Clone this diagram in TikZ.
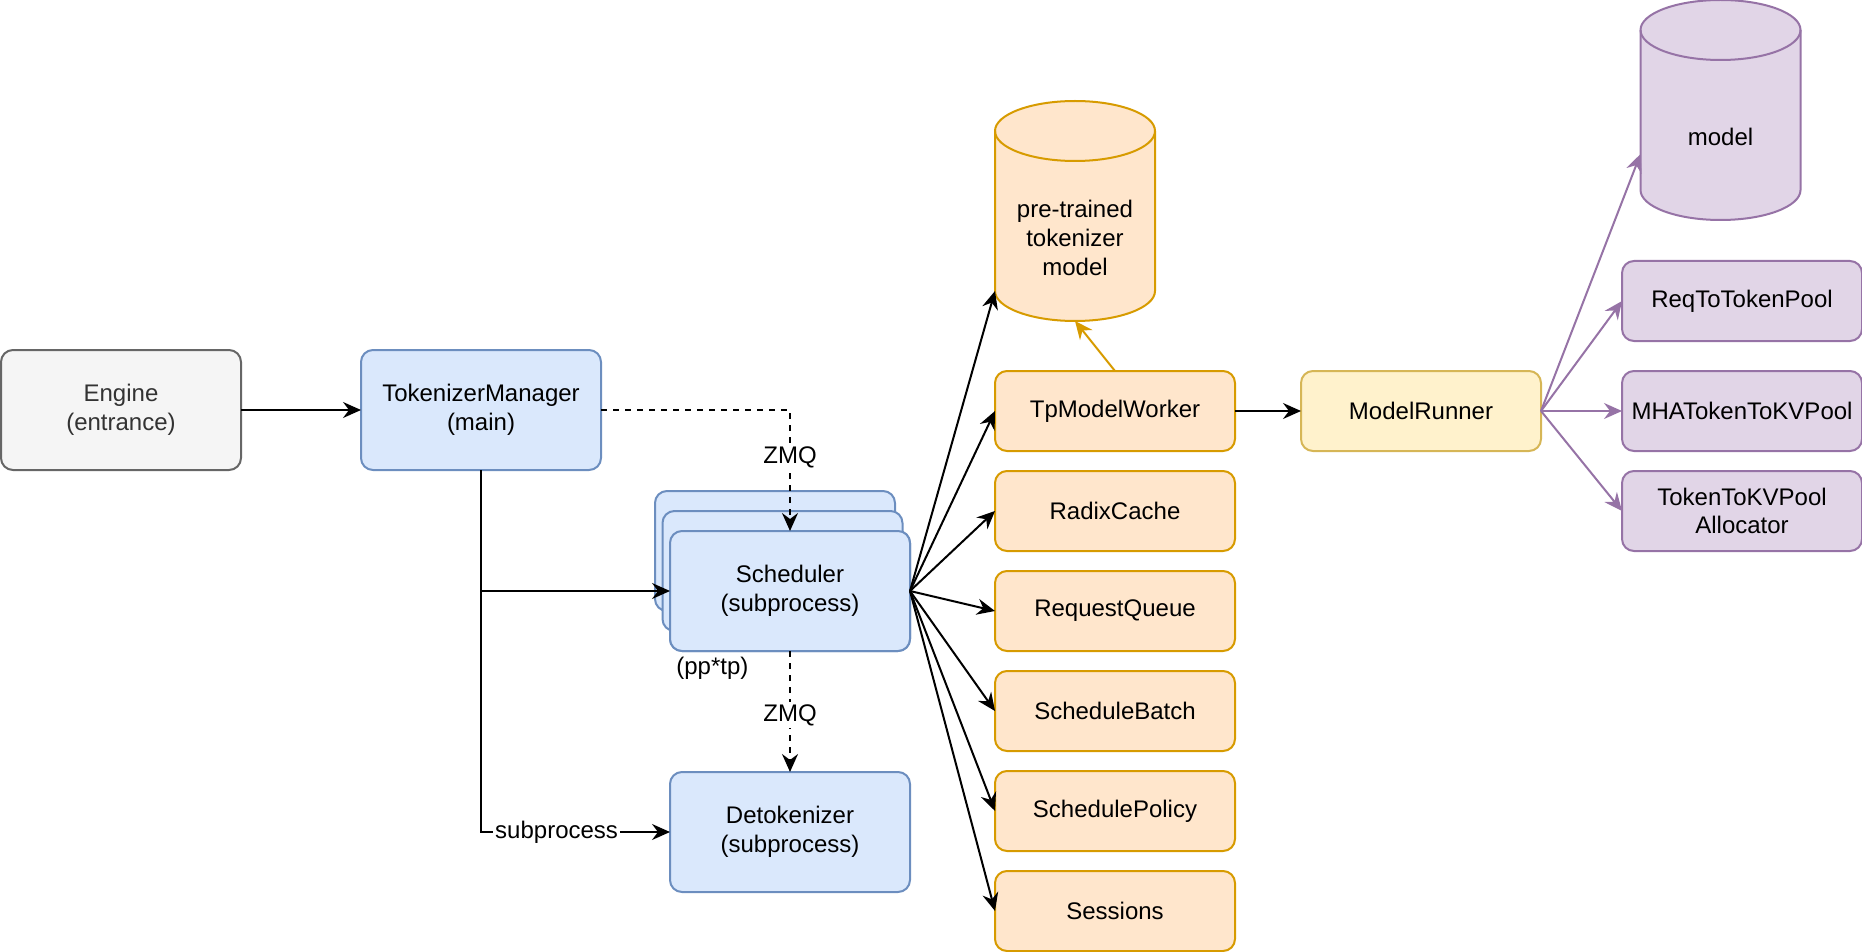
\documentclass[tikz,border=0pt]{standalone}
\usepackage{fontspec}
\setmainfont{Liberation Sans}
\usetikzlibrary{positioning,arrows.meta,calc,backgrounds}
\definecolor{engfill}{HTML}{F5F5F5}
\definecolor{engline}{HTML}{666666}
\definecolor{engtext}{HTML}{333333}
\definecolor{procfill}{HTML}{DAE8FC}
\definecolor{procline}{HTML}{6C8EBF}
\definecolor{compfill}{HTML}{FFE6CC}
\definecolor{compline}{HTML}{D79B00}
\definecolor{runfill}{HTML}{FFF2CC}
\definecolor{runline}{HTML}{D6B656}
\definecolor{poolfill}{HTML}{E1D5E7}
\definecolor{poolline}{HTML}{9673A6}
\begin{document}
\begin{tikzpicture}[x=1pt, y=-1pt,
  font=\fontsize{12}{14.4}\selectfont,
  node distance=10pt and 40pt,
  base/.style={draw, rounded corners=6pt, align=center, line width=1pt,
               outer sep=0pt, inner sep=2pt},
  entry/.style={base, fill=engfill, draw=engline, text=engtext,
                minimum width=120pt, minimum height=60pt},
  proc/.style={base, fill=procfill, draw=procline,
               minimum width=120pt, minimum height=60pt},
  comp/.style={base, fill=compfill, draw=compline,
               minimum width=120pt, minimum height=40pt},
  runner/.style={base, fill=runfill, draw=runline,
                 minimum width=120pt, minimum height=40pt},
  pool/.style={base, fill=poolfill, draw=poolline,
               minimum width=120pt, minimum height=40pt},
  db/.style={minimum width=80pt, minimum height=110pt, inner sep=0pt,
             outer sep=0pt},
  dbtext/.style={yshift=-13.5pt, align=center},
  lbl/.style={fill=white, inner sep=1pt},
  zlbl/.style={lbl, yshift=-1.8pt},
  arr/.style={-{Stealth[length=9pt,width=8pt,inset=3pt]}, line width=1pt},
  zmq/.style={arr, dash pattern=on 3pt off 3pt},
  dbcap/.style={x radius=40pt, y radius=15pt}]
\useasboundingbox (0,0) rectangle (931,476);
\node[entry] (eng) at (60.5,205) {Engine\\(entrance)};
\node[proc, right=60pt of eng] (tm) {TokenizerManager\\(main)};
\node[proc, below right=30.5pt and 34.5pt of tm] (sched) {};
\node[proc] (sched3) at ($(sched.center)+(-7.5,-20)$) {};
\node[proc] (sched2) at ($(sched.center)+(-3.75,-10)$) {};
\node[proc, below right=30.5pt and 34.5pt of tm] (sched) {Scheduler\\(subprocess)};
\node[inner sep=1pt, below right=2pt and 2pt of sched.south west] (pp) {(pp*tp)};
\node[proc, below=60.5pt of sched] (detok) {Detokenizer\\(subprocess)};
\node[db, label={[dbtext]center:pre-trained\\tokenizer\\model}]
      (tokdb) at (537.5,105.5) {};
\node[comp] (tpw) at (557.5,205.5) {TpModelWorker};
\node[comp, below=of tpw] (rc) {RadixCache};
\node[comp, below=of rc] (rq) {RequestQueue};
\node[comp, below=of rq] (sb) {ScheduleBatch};
\node[comp, below=of sb] (sp) {SchedulePolicy};
\node[comp, below=of sp] (ses) {Sessions};
\node[runner, right=33pt of tpw] (mr) {ModelRunner};
\node[pool, right=40.5pt of mr] (mha) {MHATokenToKVPool};
\node[pool, above=15pt of mha] (rtp) {ReqToTokenPool};
\node[pool, below=of mha] (alloc) {TokenToKVPool\\Allocator};
\node[db, label={[dbtext]center:model}] (model) at (860.25,55) {};
\begin{scope}[on background layer]
\foreach \n/\f/\d in {tokdb/compfill/compline, model/poolfill/poolline} {
  \draw[line width=1pt, fill=\f, draw=\d] ($(\n.center)+(-40,40)$)
    arc[dbcap, start angle=180, end angle=360] -- ++(0,-80)
    arc[dbcap, start angle=0, end angle=180] -- cycle;
  \draw[line width=1pt, draw=\d] ($(\n.center)+(-40,-40)$)
    arc[dbcap, start angle=180, end angle=360];
}
\end{scope}
\draw[arr] (eng) -- (tm);
\draw[zmq] (tm.east) -| node[zlbl, pos=0.68] {ZMQ} (sched.north);
\draw[zmq] (sched) -- node[zlbl] {ZMQ} (detok);
\draw[arr] (tm.south) |- (sched.west);
\draw[arr] (tm.south) |- node[lbl, pos=0.7] {subprocess} (detok.west);
\draw[arr] (sched.east) -- ($(tokdb.center)+(-40,40)$);
\foreach \t in {tpw,rc,rq,sb,sp,ses}
  \draw[arr] (sched.east) -- (\t.west);
\draw[arr, draw=compline, fill=compline] (tpw.north) -- ($(tokdb.center)+(0,55)$);
\draw[arr] (tpw) -- (mr);
\draw[arr, draw=poolline, fill=poolline] (mr.east) -- ($(model.center)+(-40,22)$);
\foreach \t in {rtp,mha,alloc}
  \draw[arr, draw=poolline, fill=poolline] (mr.east) -- (\t.west);
\end{tikzpicture}
\end{document}
